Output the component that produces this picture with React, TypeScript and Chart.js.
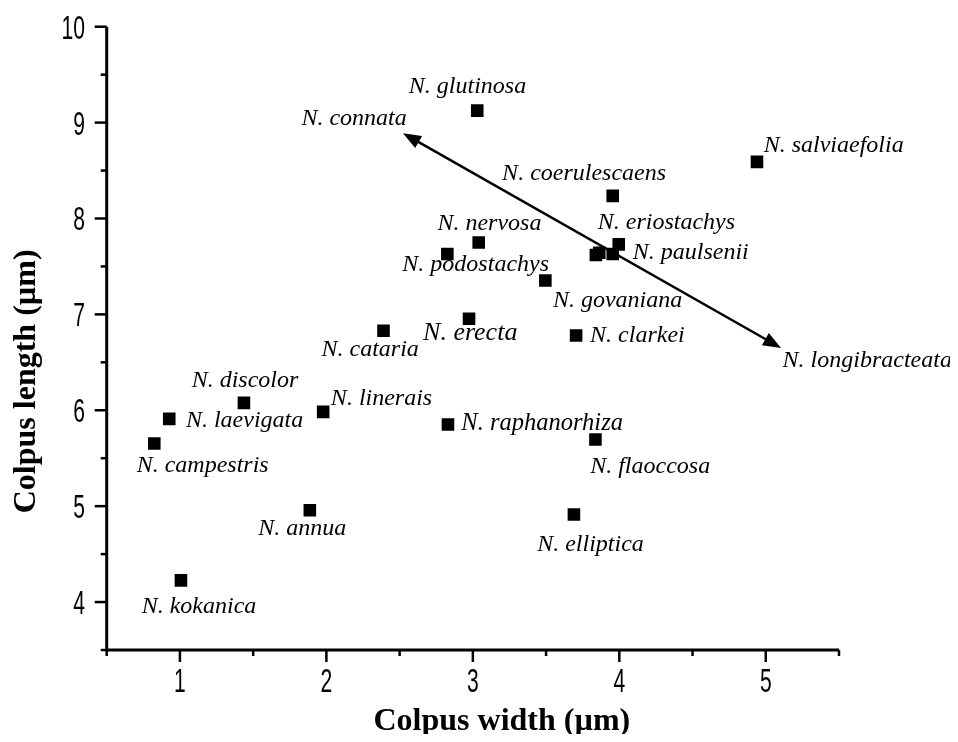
import React, { useEffect, useRef } from 'react';
import { Chart, registerables } from 'chart.js';

Chart.register(...registerables);

// ---- data ----
const speciesNames = [
  'N. glutinosa', 'N. salviaefolia', 'N. coerulescaens', 'N. nervosa', 'N. podostachys',
  'N. govaniana', 'N. erecta', 'N. cataria', 'N. clarkei', 'N. eriostachys', 'N. paulsenii',
  'N. connata', 'N. longibracteata', 'N. discolor', 'N. linerais', 'N. laevigata',
  'N. campestris', 'N. annua', 'N. kokanica', 'N. raphanorhiza', 'N. flaoccosa', 'N. elliptica',
];
const colpusWidth = [
  3.03, 4.94, 3.955, 3.04, 2.826,
  3.495, 2.974, 2.39, 3.705, 3.955, 3.996,
  3.84, 3.863, 1.437, 1.978, 0.927,
  0.825, 1.887, 1.007, 2.83, 3.837, 3.69,
];
const colpusLength = [
  9.125, 8.59, 8.236, 7.75, 7.63,
  7.354, 6.955, 6.83, 6.78, 7.63, 7.73,
  7.62, 7.643, 6.077, 5.983, 5.91,
  5.653, 4.958, 4.226, 5.851, 5.695, 4.913,
];
const arrowStart = [2.523, 8.89];
const arrowEnd = [5.104, 6.65];
const arrowLabels = ['N. connata', 'N. longibracteata'];

const xTickValues = [1, 2, 3, 4, 5];
const xTickLabels = ['1', '2', '3', '4', '5'];
const yTickValues = [4, 5, 6, 7, 8, 9, 10];
const yTickLabels = ['4', '5', '6', '7', '8', '9', '10'];
const xRange = [0.5, 5.5];
const yRange = [3.5, 10];
const xTitle = 'Colpus width (µm)';
const yTitle = 'Colpus length (µm)';

// ---- layout (label offsets in px from the point: left edge, vertical centre) ----
const labelOffsets: ([number, number] | null)[] = [
  [-68.4, -22.4], [6.7, -15], [-110.6, -20.5], [-41.3, -17.7], [-45, 11.7],
  [7.6, 22], [-46, 16.7], [-62, 20], [14, 1.3], [-15, -30.3], [14, 9.7],
  null, null, [-52.3, -20.6], [7.7, -12.3], [16.7, 3],
  [-17.6, 23.3], [-51.7, 20], [-39.3, 27.3], [13.4, 0], [-5.3, 28.3], [-36.7, 31.7],
];
const labelSizes = [
  24, 24, 24, 24, 24,
  24, 26, 24, 24, 24, 24,
  24, 24, 24, 24, 24,
  24, 24, 24, 24.5, 24, 24,
];
const arrowLabelOffsets: [number, number][] = [[-101.6, -13.3], [1.6, 14.4]];

const LABEL_FONT = '"Liberation Serif", "Times New Roman", serif';

function drawHead(ctx: CanvasRenderingContext2D, tx: number, ty: number, ang: number) {
  const len = 18, half = 7;
  ctx.beginPath();
  ctx.moveTo(tx, ty);
  ctx.lineTo(tx - len * Math.cos(ang) + half * Math.sin(ang), ty - len * Math.sin(ang) - half * Math.cos(ang));
  ctx.lineTo(tx - len * Math.cos(ang) - half * Math.sin(ang), ty - len * Math.sin(ang) + half * Math.cos(ang));
  ctx.closePath();
  ctx.fill();
}

const arrowPlugin = {
  id: 'arrowPlugin',
  beforeDatasetsDraw(chart: any) {
    const { ctx } = chart;
    const xs = chart.scales.x, ys = chart.scales.y;
    const x1 = xs.getPixelForValue(arrowStart[0]), y1 = ys.getPixelForValue(arrowStart[1]);
    const x2 = xs.getPixelForValue(arrowEnd[0]), y2 = ys.getPixelForValue(arrowEnd[1]);
    const ang = Math.atan2(y2 - y1, x2 - x1);
    ctx.save();
    ctx.strokeStyle = '#000';
    ctx.fillStyle = '#000';
    ctx.lineWidth = 2.5;
    const sh = 10;
    ctx.beginPath();
    ctx.moveTo(x1 + sh * Math.cos(ang), y1 + sh * Math.sin(ang));
    ctx.lineTo(x2 - sh * Math.cos(ang), y2 - sh * Math.sin(ang));
    ctx.stroke();
    drawHead(ctx, x2, y2, ang);
    drawHead(ctx, x1, y1, ang + Math.PI);
    ctx.restore();
  },
};

const axisPlugin = {
  id: 'axisPlugin',
  afterDraw(chart: any) {
    const { ctx, chartArea: a } = chart;
    const xs = chart.scales.x, ys = chart.scales.y;
    ctx.save();
    ctx.strokeStyle = '#000';
    ctx.fillStyle = '#000';

    // axis lines
    ctx.lineWidth = 3;
    ctx.beginPath();
    ctx.moveTo(a.left, a.top);
    ctx.lineTo(a.left, a.bottom);
    ctx.lineTo(a.right, a.bottom);
    ctx.stroke();

    // tick marks
    ctx.lineWidth = 2.5;
    for (let v = xRange[0]; v <= xRange[1] + 1e-9; v += 0.5) {
      const px = xs.getPixelForValue(v);
      const major = Math.abs(v - Math.round(v)) < 1e-9;
      ctx.beginPath();
      ctx.moveTo(px, a.bottom);
      ctx.lineTo(px, a.bottom + (major ? 12 : 6));
      ctx.stroke();
    }
    for (let v = yRange[0]; v <= yRange[1] + 1e-9; v += 0.5) {
      const py = ys.getPixelForValue(v);
      const major = Math.abs(v - Math.round(v)) < 1e-9;
      ctx.beginPath();
      ctx.moveTo(a.left, py);
      ctx.lineTo(a.left - (major ? 12 : 6), py);
      ctx.stroke();
    }

    // tick labels (condensed sans)
    ctx.font = '34px "Liberation Sans", Arial, sans-serif';
    ctx.textBaseline = 'alphabetic';
    xTickValues.forEach((v, i) => {
      const px = xs.getPixelForValue(v);
      ctx.save();
      ctx.translate(px, a.bottom + 42);
      ctx.scale(0.62, 1);
      ctx.textAlign = 'center';
      ctx.fillText(xTickLabels[i], 0, 0);
      ctx.restore();
    });
    yTickValues.forEach((v, i) => {
      const py = ys.getPixelForValue(v);
      ctx.save();
      ctx.translate(a.left - 21.7, py + 12);
      ctx.scale(0.62, 1);
      ctx.textAlign = 'right';
      ctx.fillText(yTickLabels[i], 0, 0);
      ctx.restore();
    });

    // axis titles
    ctx.font = 'bold 32px ' + LABEL_FONT;
    ctx.textAlign = 'center';
    ctx.save();
    ctx.translate((a.left + a.right) / 2 + 29, a.bottom + 72 + 8);
    ctx.fillText(xTitle, 0, 0);
    ctx.restore();
    ctx.save();
    ctx.translate(a.left - 79.7 + 8, (a.top + a.bottom) / 2 + 43);
    ctx.rotate(-Math.PI / 2);
    ctx.fillText(yTitle, 0, 0);
    ctx.restore();

    // species labels
    ctx.textAlign = 'left';
    speciesNames.forEach((name, i) => {
      const off = labelOffsets[i];
      if (!off) return;
      const px = xs.getPixelForValue(colpusWidth[i]);
      const py = ys.getPixelForValue(colpusLength[i]);
      ctx.font = 'italic ' + labelSizes[i] + 'px ' + LABEL_FONT;
      ctx.fillText(name, px + off[0], py + off[1] + 5);
    });
    const tips = [arrowStart, arrowEnd];
    arrowLabels.forEach((name, i) => {
      const px = xs.getPixelForValue(tips[i][0]);
      const py = ys.getPixelForValue(tips[i][1]);
      ctx.font = 'italic 24px ' + LABEL_FONT;
      ctx.fillText(name, px + arrowLabelOffsets[i][0], py + arrowLabelOffsets[i][1] + 5);
    });
    ctx.restore();
  },
};

export default function App() {
  const ref = useRef<HTMLCanvasElement | null>(null);
  useEffect(() => {
    if (!ref.current) return;
    const chart = new Chart(ref.current, {
      type: 'scatter',
      data: {
        datasets: [
          {
            data: colpusWidth.map((x, i) => ({ x, y: colpusLength[i] })),
            pointStyle: 'rect',
            pointRadius: 8.9,
            pointHoverRadius: 8.9,
            backgroundColor: '#000',
            borderWidth: 0,
          },
        ],
      },
      options: {
        animation: false,
        responsive: false,
        events: [],
        layout: { padding: { left: 98.7, top: 18.7, right: 111, bottom: 84 } },
        scales: {
          x: { type: 'linear', min: xRange[0], max: xRange[1], display: false },
          y: { type: 'linear', min: yRange[0], max: yRange[1], display: false },
        },
        plugins: { legend: { display: false }, tooltip: { enabled: false } },
      },
      plugins: [arrowPlugin, axisPlugin],
    } as any);
    return () => chart.destroy();
  }, []);
  return (
    <div style={{ width: 942, height: 726 }}>
      <canvas ref={ref} width={942} height={726} style={{ display: 'block' }} />
    </div>
  );
}
